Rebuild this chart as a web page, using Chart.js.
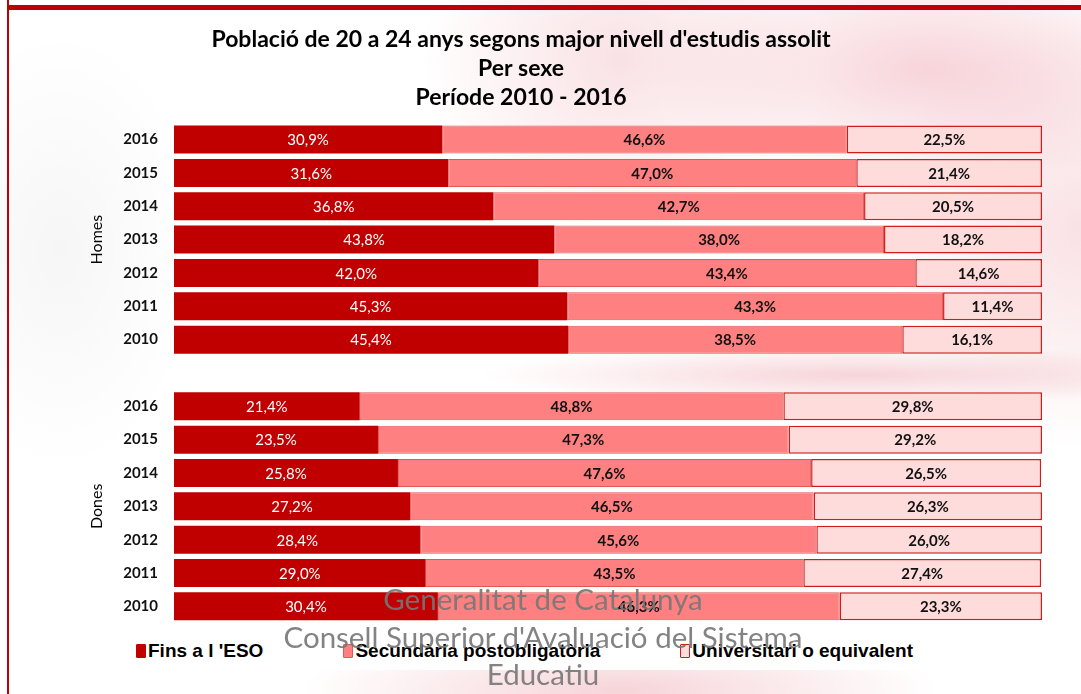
<!DOCTYPE html>
<html>
<head>
<meta charset="utf-8">
<script src="https://cdn.jsdelivr.net/npm/chart.js@4"></script>
<style>
  html, body { margin: 0; padding: 0; }
  body {
    width: 1081px; height: 694px; position: relative; overflow: hidden;
    background:
      radial-gradient(ellipse 280px 120px at 930px 70px, rgba(238,160,172,0.45), rgba(238,160,172,0) 100%),
      radial-gradient(ellipse 200px 220px at 1080px 230px, rgba(238,170,178,0.35), rgba(238,170,178,0) 100%),
      radial-gradient(ellipse 380px 30px at 860px 375px, rgba(238,170,178,0.50), rgba(238,170,178,0) 100%),
      radial-gradient(ellipse 320px 60px at 620px 690px, rgba(238,170,178,0.50), rgba(238,170,178,0) 100%),
      radial-gradient(ellipse 200px 170px at 620px 60px, rgba(238,170,178,0.35), rgba(238,170,178,0) 100%),
      radial-gradient(ellipse 140px 220px at 60px 250px, rgba(0,0,0,0.035), rgba(0,0,0,0) 100%),
      #ffffff;
  }
  #frameTop { position: absolute; left: 7px; right: 0; top: 5px; height: 5px; background: #c00000; }
  #frameLeft { position: absolute; left: 7px; top: 0; bottom: 0; width: 2px; background: #c00000; }
  #wrap { position: absolute; left: 0; top: 0; width: 1081px; height: 694px; }
  #legendBox {
    position: absolute; left: 60px; top: 632px; width: 905px; height: 38px;
    background: #fff; display: flex; align-items: center; padding-left: 76px; box-sizing: border-box;
    font-family: "Liberation Sans", Arial, sans-serif; font-weight: bold; font-size: 19px; color: #000;
  }
  .lg-item { display: flex; align-items: center; margin-right: 80px; white-space: nowrap; }
  .lg-box { width: 10px; height: 14px; margin-right: 2px; box-sizing: border-box; border-radius: 1px; }
  #watermark {
    position: absolute; left: 0; width: 1086px; top: 580px; text-align: center;
    font-family: Lato, "Open Sans", sans-serif; font-size: 29.5px; line-height: 37.5px;
    color: rgba(118,118,118,0.9); pointer-events: none;
  }
</style>
</head>
<body>
<div id="frameLeft"></div>
<div id="frameTop"></div>
<div id="legendBox"></div>
<div id="wrap"><canvas id="myChart" width="1081" height="694"></canvas></div>
<div id="watermark">Generalitat de Catalunya<br>Consell Superior d'Avaluació del Sistema<br>Educatiu</div>

<script>
const years = ['2016', '2015', '2014', '2013', '2012', '2011', '2010']
const groups = ['Homes', 'Dones']
const seriesNames = ['Fins a l \'ESO', 'Secundària postobligatòria', 'Universitari o equivalent']

// Homes
const homesFins = [30.9, 31.6, 36.8, 43.8, 42.0, 45.3, 45.4]
const homesSec = [46.6, 47.0, 42.7, 38.0, 43.4, 43.3, 38.5]
const homesUni = [22.5, 21.4, 20.5, 18.2, 14.6, 11.4, 16.1]

// Dones
const donesFins = [21.4, 23.5, 25.8, 27.2, 28.4, 29.0, 30.4]
const donesSec = [48.8, 47.3, 47.6, 46.5, 45.6, 43.5, 46.3]
const donesUni = [29.8, 29.2, 26.5, 26.3, 26.0, 27.4, 23.3]

const colors = ['#c00000', '#ff8080', '#ffdcdc']
const borders = ['#c00000', '#e05858', '#d01c1c']

// one empty slot between the two groups
const labels = [...years, '', ...years]
const join = (a, b) => [...a, null, ...b]

const fmt = v => v.toFixed(1).replace('.', ',') + '%'

const dataLabels = {
    id: 'dataLabels',
    afterDatasetsDraw(chart) {
        const ctx = chart.ctx
        ctx.save()
        ctx.textAlign = 'center'
        ctx.textBaseline = 'middle'
        chart.data.datasets.forEach((ds, i) => {
            const meta = chart.getDatasetMeta(i)
            ctx.font = i === 0 ? '15px Lato' : 'bold 15px Lato'
            ctx.fillStyle = i === 0 ? '#ffffff' : '#111111'
            meta.data.forEach((el, j) => {
                const v = ds.data[j]
                if (v === null || v === undefined) return
                ctx.fillText(fmt(v), (el.x + el.base) / 2, el.y + 1)
            })
        })
        ctx.restore()
    }
}

const groupLabels = {
    id: 'groupLabels',
    afterDraw(chart) {
        const ctx = chart.ctx
        const y = chart.scales.y
        ctx.save()
        ctx.font = '16px Lato'
        ctx.fillStyle = '#000'
        ctx.textAlign = 'center'
        ctx.textBaseline = 'middle'
        groups.forEach((g, k) => {
            const idx = k * (years.length + 1) + Math.floor(years.length / 2)
            ctx.save()
            ctx.translate(chart.chartArea.left - 77, y.getPixelForValue(idx))
            ctx.rotate(-Math.PI / 2)
            ctx.fillText(g, 0, 0)
            ctx.restore()
        })
        ctx.restore()
    }
}

const ctx = document.getElementById('myChart').getContext('2d')
const myChart = new Chart(ctx, {
    type: 'bar',
    data: {
        labels: labels,
        datasets: [
            { label: seriesNames[0], data: join(homesFins, donesFins) },
            { label: seriesNames[1], data: join(homesSec, donesSec) },
            { label: seriesNames[2], data: join(homesUni, donesUni) },
        ].map((d, i) => ({
            ...d,
            backgroundColor: colors[i],
            borderColor: borders[i],
            borderWidth: i === 0 ? 0 : (i === 1 ? 1 : 1.5),
            borderSkipped: false,
            barPercentage: 0.84,
            categoryPercentage: 1,
        })),
    },
    options: {
        indexAxis: 'y',
        responsive: false,
        animation: false,
        layout: { padding: { left: 0, right: 39, top: 0, bottom: 71 } },
        scales: {
            x: { stacked: true, min: 0, max: 100, display: false },
            y: {
                stacked: true,
                grid: { display: false },
                border: { display: false },
                ticks: { color: '#111', font: { family: 'Lato', weight: 'bold', size: 15 }, padding: 8 },
                afterFit: s => { s.width = 174 },
            },
        },
        plugins: {
            legend: { display: false },
            tooltip: { enabled: false },
            title: {
                display: true,
                text: ['Població de 20 a 24 anys segons major nivell d\'estudis assolit', 'Per sexe', 'Període 2010 - 2016'],
                color: '#000',
                font: { family: 'Lato', weight: 'bold', size: 23, lineHeight: 1.26 },
                padding: { top: 25, bottom: 11 },
            },
        },
    },
    plugins: [dataLabels, groupLabels],
})

// legend built from the chart's datasets
const legendBox = document.getElementById('legendBox')
myChart.data.datasets.forEach(ds => {
    const item = document.createElement('div')
    item.className = 'lg-item'
    const box = document.createElement('span')
    box.className = 'lg-box'
    box.style.background = ds.backgroundColor
    box.style.border = '1px solid ' + ds.borderColor
    item.appendChild(box)
    item.appendChild(document.createTextNode(ds.label))
    legendBox.appendChild(item)
})
</script>
</body>
</html>
